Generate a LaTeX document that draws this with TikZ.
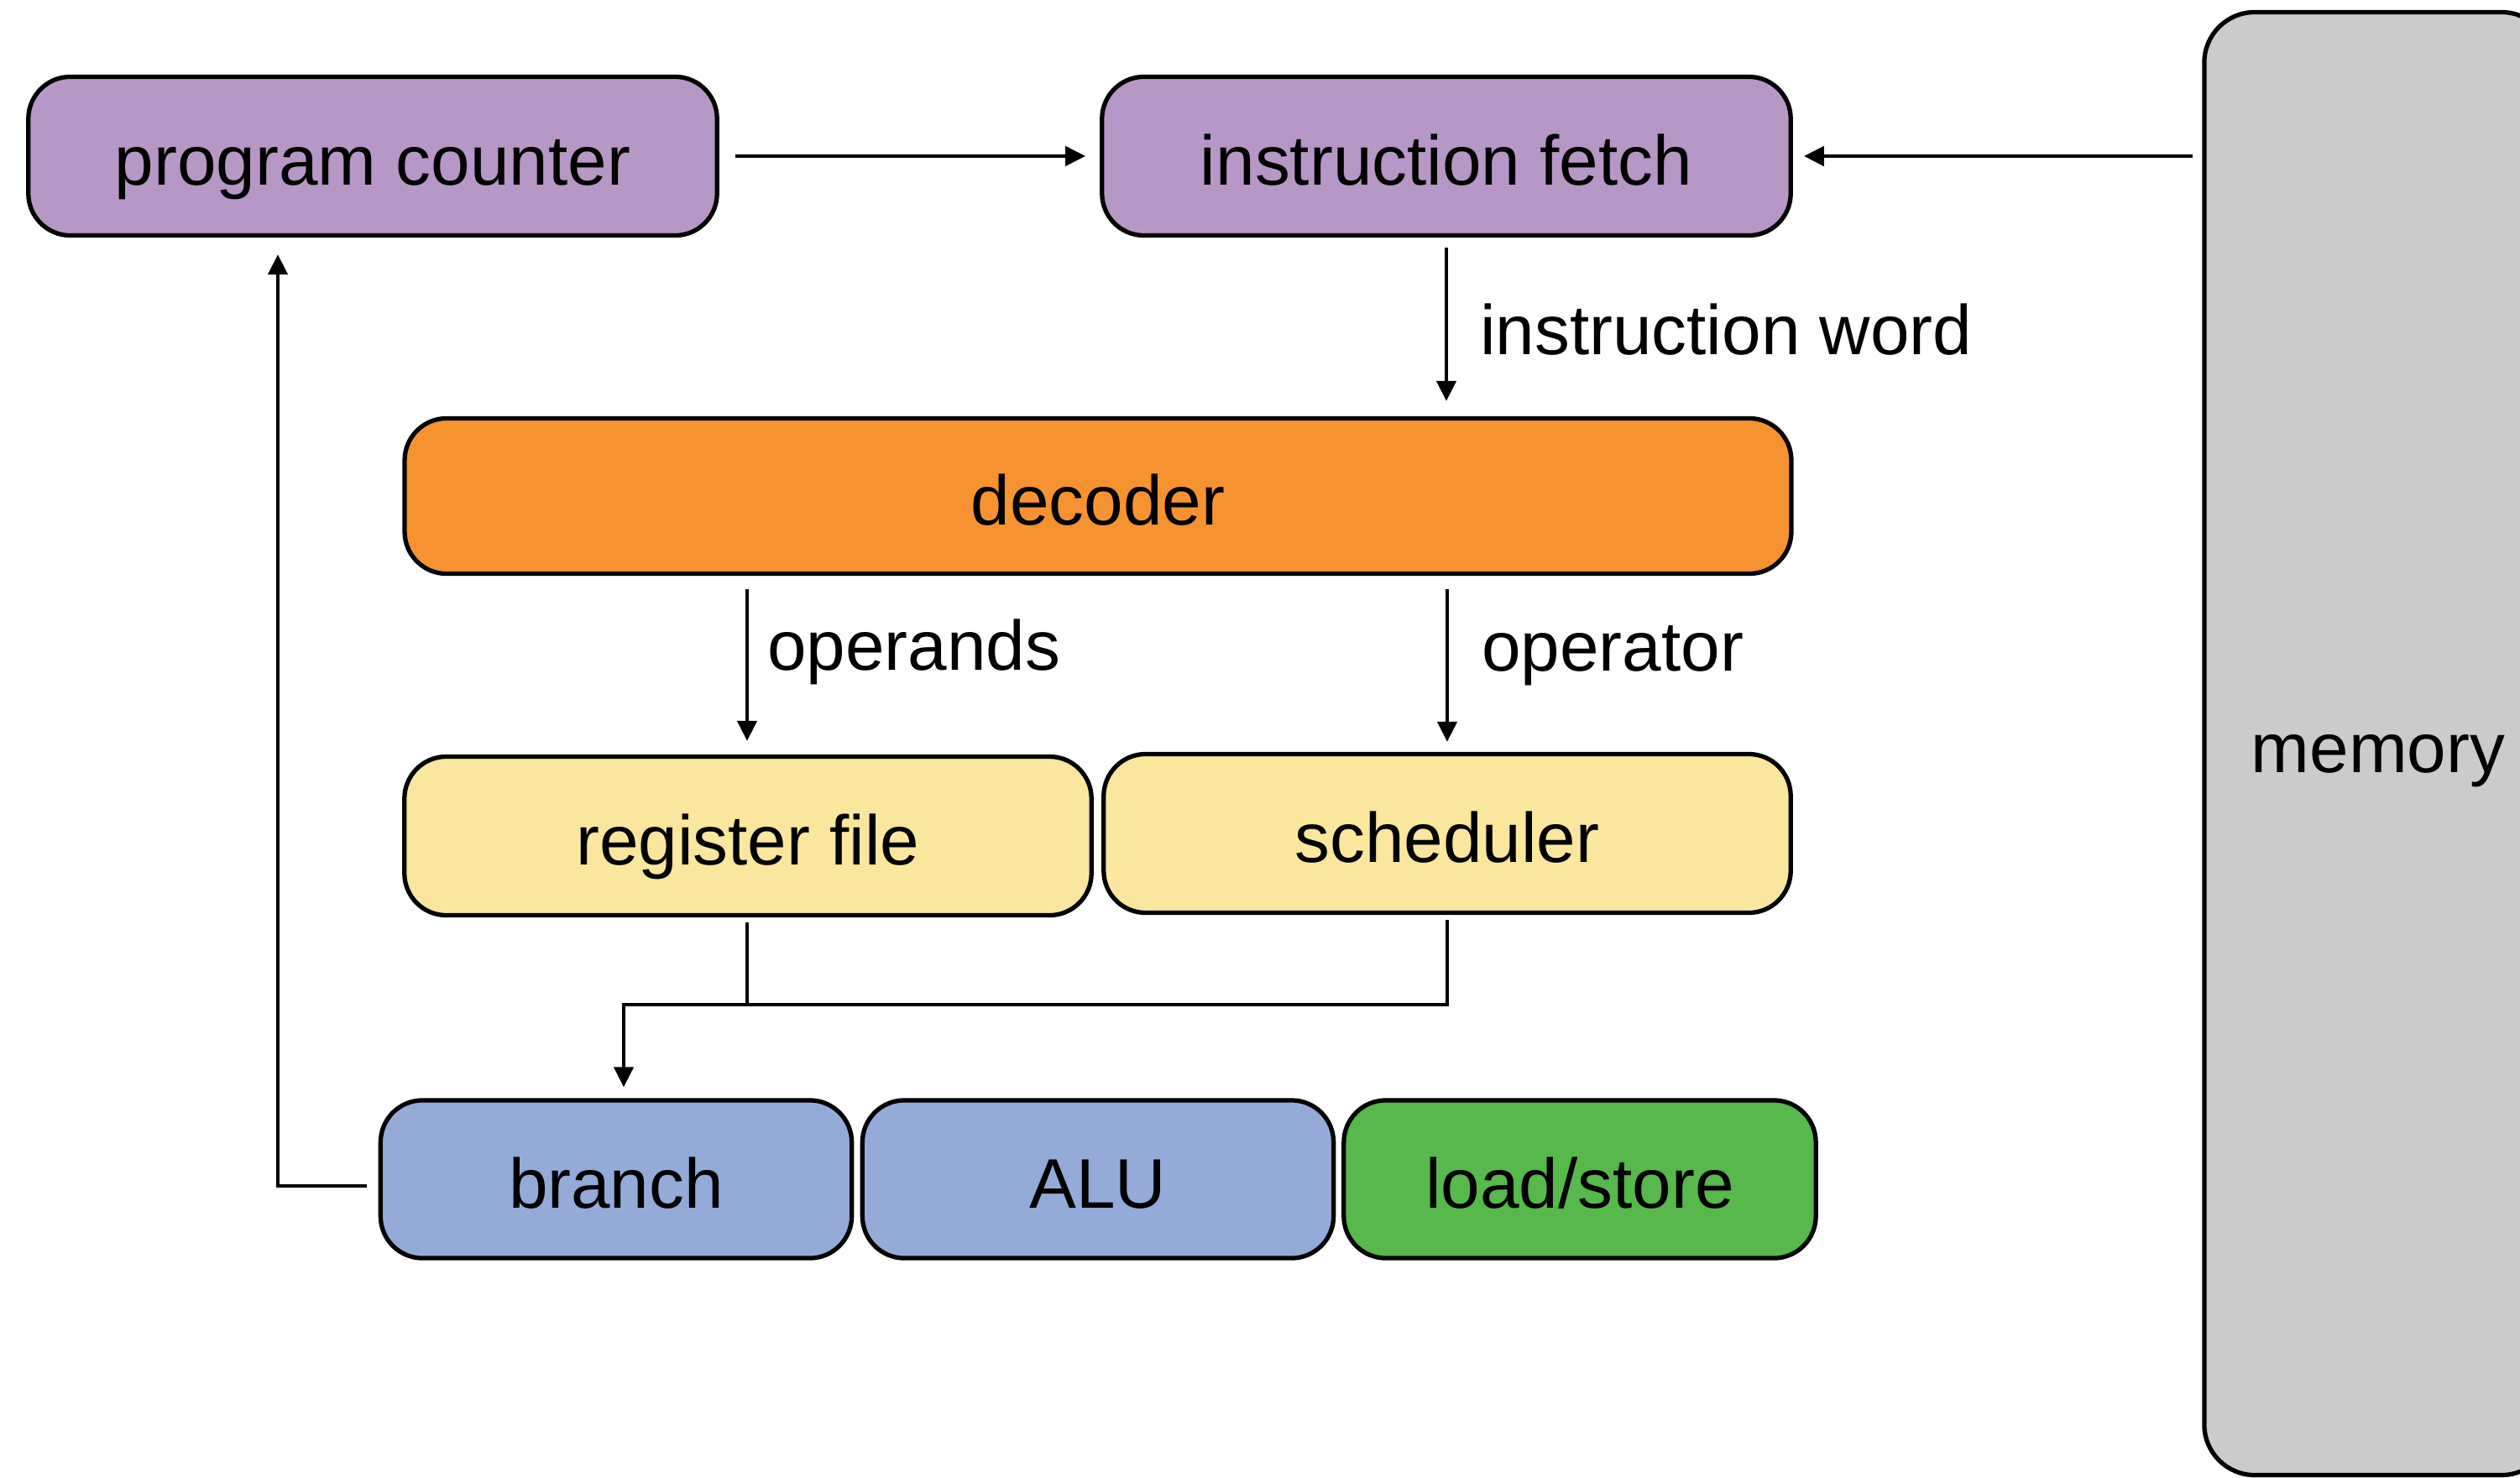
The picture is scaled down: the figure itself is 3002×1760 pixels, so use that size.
\documentclass[tikz,border=0pt]{standalone}
\usepackage{fontspec}
\setmainfont{Liberation Sans}
\usetikzlibrary{arrows.meta}

\definecolor{ctrlpurple}{HTML}{B797C5}
\definecolor{decorange}{HTML}{F69330}
\definecolor{stageyellow}{HTML}{FAE69D}
\definecolor{execblue}{HTML}{94ABD8}
\definecolor{lsgreen}{HTML}{57B84B}
\definecolor{memgray}{HTML}{CBCBCB}

\tikzset{
  unitbox/.style={draw=black, line width=1.5pt, rounded corners=0.5cm,
    inner sep=0pt, text height=0.68cm, text depth=0pt, align=center,
    font=\fontsize{23.8}{28}\selectfont},
  wire/.style={line width=1.25pt, draw=black},
  flow/.style={wire, -{Triangle[length=0.24cm, width=0.23cm]}},
  tag/.style={anchor=base west, inner sep=0pt, font=\fontsize{23.8}{28}\selectfont}
}

\begin{document}
\begin{tikzpicture}[x=0.01cm, y=-0.01cm]
  \path[use as bounding box] (0,0) rectangle (3002,1760);
  \clip (0,0) rectangle (3002,1760);

  % memory column along the right edge
  \node[unitbox, fill=memgray, rounded corners=0.6cm, minimum width=4.14cm, minimum height=17.42cm]
    (mem) at (2833,886) {memory};

  % front end
  \node[unitbox, fill=ctrlpurple, minimum width=8.20cm, minimum height=1.89cm]
    (pc) at (444,186) {program counter};
  \node[unitbox, fill=ctrlpurple, minimum width=8.20cm, minimum height=1.89cm]
    (fetch) at (1723,186) {instruction fetch};
  \node[unitbox, fill=decorange, minimum width=16.51cm, minimum height=1.85cm]
    (dec) at (1308,591) {decoder};

  % operand and operator stages
  \node[unitbox, fill=stageyellow, minimum width=8.18cm, minimum height=1.89cm]
    (regs) at (891,996) {register file};
  \node[unitbox, fill=stageyellow, minimum width=8.18cm, minimum height=1.89cm]
    (sched) at (1724,993) {scheduler};

  % execution units
  \node[unitbox, fill=execblue, minimum width=5.61cm, minimum height=1.88cm]
    (br) at (734,1405) {branch};
  \node[unitbox, fill=execblue, minimum width=5.61cm, minimum height=1.88cm]
    (alu) at (1308,1405) {ALU};
  \node[unitbox, fill=lsgreen, minimum width=5.62cm, minimum height=1.88cm]
    (ls) at (1882,1405) {load/store};

  % connectors
  \draw[flow] ([xshift=0.19cm]pc.east) -- ([xshift=-0.17cm]fetch.west);
  \draw[flow] ([xshift=-0.11cm]mem.west |- fetch.east) -- ([xshift=0.13cm]fetch.east);

  \draw[flow] ([yshift=-0.12cm]fetch.south) -- ([yshift=0.18cm]fetch.south |- dec.north)
    node[tag, pos=0.5, xshift=0.38cm, yshift=-0.36cm] {instruction word};

  \coordinate (opx) at (890,0);
  \draw[flow] ([yshift=-0.16cm]opx |- dec.south) -- ([yshift=0.16cm]opx |- regs.north)
    node[tag, pos=0.5, xshift=0.22cm, yshift=-0.06cm] {operands};
  \draw[flow] ([yshift=-0.16cm]sched.north |- dec.south) -- ([yshift=0.12cm]sched.north)
    node[tag, pos=0.5, xshift=0.39cm, yshift=-0.06cm] {operator};

  \coordinate (merge) at (743,1197);
  \draw[wire] ([yshift=-0.06cm]opx |- regs.south) -- (opx |- merge);
  \draw[flow] ([yshift=-0.06cm]sched.south) |- (merge) -- ([yshift=0.13cm]merge |- br.north);

  \coordinate (fbx) at (331,0);
  \draw[flow] ([xshift=-0.14cm,yshift=-0.08cm]br.west) -| ([yshift=-0.20cm]fbx |- pc.south);
\end{tikzpicture}
\end{document}
